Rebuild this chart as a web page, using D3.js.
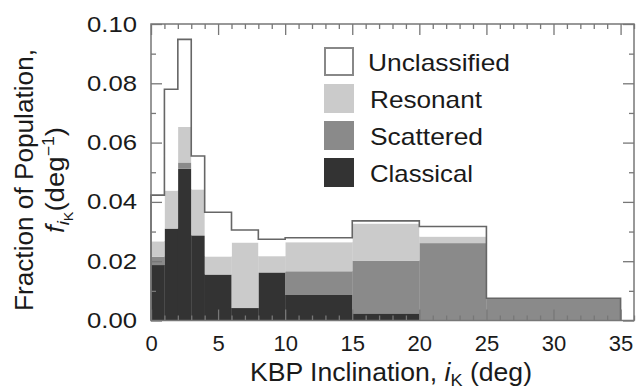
<!DOCTYPE html>
<html>
<head>
<meta charset="utf-8">
<script src="https://cdn.jsdelivr.net/npm/d3@7"></script>
<style>
  body { margin: 0; background: #fff; }
  svg { display: block; font-family: "Liberation Sans", Arial, Helvetica, sans-serif; }
  .tick line { stroke: #777; stroke-width: 1.3; }
  .tick text { fill: #1a1a1a; font-size: 22px; }
</style>
</head>
<body>
<svg class="chart" width="637" height="391"></svg>
<script>
// bin edges (deg) and fraction per category (deg^-1)
const binEdges = [0, 1, 2, 3, 4, 6, 8, 10, 15, 20, 25, 35];
const classical    = [0.0187, 0.0310, 0.0512, 0.0287, 0.0155, 0.0042, 0.0162, 0.0086, 0.0024, 0.0000, 0.0000];
const scattered    = [0.0028, 0.0000, 0.0021, 0.0000, 0.0000, 0.0000, 0.0000, 0.0080, 0.0178, 0.0261, 0.0075];
const resonant     = [0.0052, 0.0128, 0.0120, 0.0155, 0.0061, 0.0221, 0.0055, 0.0098, 0.0125, 0.0022, 0.0000];
const unclassified = [0.0156, 0.0342, 0.0295, 0.0113, 0.0149, 0.0042, 0.0057, 0.0015, 0.0009, 0.0034, 0.0000];
const categories = ['Classical', 'Scattered', 'Resonant', 'Unclassified'];
const legendOrder = ['Unclassified', 'Resonant', 'Scattered', 'Classical'];
const xMajorTicks = [0, 5, 10, 15, 20, 25, 30, 35];
const yMajorTicks = [0, 0.02, 0.04, 0.06, 0.08, 0.10];

const colors = { Classical: '#333333', Scattered: '#8a8a8a', Resonant: '#cbcbcb', Unclassified: '#ffffff' };
const legendTextLen = { Unclassified: 142, Resonant: 112, Scattered: 113, Classical: 103 };

const width = 637, height = 391;
const margin = { l: 151, t: 24, r: 3, b: 70.5 };

const svg = d3.select('.chart');

const xScale = d3.scaleLinear().domain([0, 36]).range([margin.l, width - margin.r]);
const yScale = d3.scaleLinear().domain([0, 0.1]).range([height - margin.b, margin.t]);

const series = { Classical: classical, Scattered: scattered, Resonant: resonant, Unclassified: unclassified };
const rows = classical.map((d, i) => {
  const row = { x0: binEdges[i], x1: binEdges[i + 1] };
  categories.forEach(c => { row[c] = series[c][i]; });
  return row;
});

const stacked = d3.stack().keys(categories)(rows);

// stacked bars
const layers = svg.append('g').selectAll('g')
  .data(stacked)
  .join('g')
  .attr('fill', d => colors[d.key]);

layers.selectAll('rect')
  .data(d => d)
  .join('rect')
  .attr('x', d => xScale(d.data.x0))
  .attr('width', d => xScale(d.data.x1) - xScale(d.data.x0) + 0.3)
  .attr('y', d => yScale(d[1]))
  .attr('height', d => Math.max(0, yScale(d[0]) - yScale(d[1])));

// outline of the total
const totals = stacked[stacked.length - 1];
const outlinePts = [{ x: 0, y: 0 }]
  .concat(totals.map(d => ({ x: d.data.x0, y: d[1] })))
  .concat([{ x: binEdges[binEdges.length - 1], y: 0 }]);

const line = d3.line()
  .x(d => xScale(d.x))
  .y(d => yScale(d.y))
  .curve(d3.curveStepAfter);

svg.append('path')
  .attr('d', line(outlinePts))
  .attr('fill', 'none')
  .attr('stroke', '#666')
  .attr('stroke-width', 1.6);

// frame
svg.append('rect')
  .attr('x', margin.l).attr('y', margin.t)
  .attr('width', width - margin.r - margin.l)
  .attr('height', height - margin.b - margin.t)
  .attr('fill', 'none')
  .attr('stroke', '#777')
  .attr('stroke-width', 1.5);

const xMinor = d3.range(0, 37, 1).filter(v => v % 5 !== 0);
const yMinor = [0.01, 0.03, 0.05, 0.07, 0.09];
const bottomY = height - margin.b, rightX = width - margin.r;

function addAxis(axis, tx, ty) {
  const g = svg.append('g').attr('transform', `translate(${tx},${ty})`).call(axis);
  g.select('.domain').remove();
  return g;
}

// bottom
const xb = addAxis(d3.axisBottom(xScale).tickValues(xMajorTicks).tickSize(-11).tickPadding(15).tickFormat(d3.format('d')), 0, bottomY);
xb.selectAll('text').attr('font-size', 23);
addAxis(d3.axisBottom(xScale).tickValues(xMinor).tickSize(-5).tickFormat(''), 0, bottomY);
// top
addAxis(d3.axisTop(xScale).tickValues(xMajorTicks).tickSize(-11).tickFormat(''), 0, margin.t);
addAxis(d3.axisTop(xScale).tickValues(xMinor).tickSize(-5).tickFormat(''), 0, margin.t);
// left
const yl = addAxis(d3.axisLeft(yScale).tickValues(yMajorTicks).tickSize(-11).tickPadding(14).tickFormat(d3.format('.2f')), margin.l, 0);
yl.selectAll('text').attr('textLength', 50).attr('lengthAdjust', 'spacingAndGlyphs');
addAxis(d3.axisLeft(yScale).tickValues(yMinor).tickSize(-5).tickFormat(''), margin.l, 0);
// right
addAxis(d3.axisRight(yScale).tickValues(yMajorTicks).tickSize(-11).tickFormat(''), rightX, 0);
addAxis(d3.axisRight(yScale).tickValues(yMinor).tickSize(-5).tickFormat(''), rightX, 0);

// x title
const xt = svg.append('text')
  .attr('x', 250).attr('y', 381)
  .attr('font-size', 25)
  .attr('fill', '#1a1a1a')
  .attr('textLength', 282)
  .attr('lengthAdjust', 'spacingAndGlyphs');
xt.append('tspan').text('KBP Inclination, ');
xt.append('tspan').attr('font-style', 'italic').text('i');
xt.append('tspan').attr('font-size', 17).attr('dy', 5).text('K');
xt.append('tspan').attr('dy', -5).text(' (deg)');

// y title
svg.append('text')
  .attr('transform', 'translate(33,180) rotate(-90)')
  .attr('text-anchor', 'middle')
  .attr('font-size', 25)
  .attr('fill', '#1a1a1a')
  .attr('textLength', 262)
  .attr('lengthAdjust', 'spacingAndGlyphs')
  .text('Fraction of Population,');

const yt2 = svg.append('text')
  .attr('transform', 'translate(64,180) rotate(-90)')
  .attr('text-anchor', 'middle')
  .attr('font-size', 25)
  .attr('fill', '#1a1a1a')
  .attr('textLength', 106)
  .attr('lengthAdjust', 'spacingAndGlyphs');
yt2.append('tspan').attr('font-style', 'italic').text('f');
yt2.append('tspan').attr('font-style', 'italic').attr('font-size', 17).attr('dy', 5).text('i');
yt2.append('tspan').attr('font-size', 13).attr('dy', 4).text('K');
yt2.append('tspan').attr('dy', -9).text('(deg');
yt2.append('tspan').attr('font-size', 16).attr('dy', -10).text('\u22121');
yt2.append('tspan').attr('dy', 10).text(')');

// legend
const legend = svg.append('g').attr('transform', 'translate(324,47)');
const item = legend.selectAll('g')
  .data(legendOrder)
  .join('g')
  .attr('transform', (d, i) => `translate(0,${i * 37})`);

item.append('rect')
  .attr('x', d => d === 'Unclassified' ? 1 : 0)
  .attr('y', d => d === 'Unclassified' ? 1 : 0)
  .attr('width', d => d === 'Unclassified' ? 28 : 30)
  .attr('height', d => d === 'Unclassified' ? 27 : 29)
  .attr('fill', d => colors[d])
  .attr('stroke', d => d === 'Unclassified' ? '#888' : 'none')
  .attr('stroke-width', 2);

item.append('text')
  .attr('x', d => d === 'Unclassified' ? 44 : 46)
  .attr('y', 23.5)
  .attr('font-size', 24)
  .attr('fill', '#1a1a1a')
  .attr('textLength', d => legendTextLen[d])
  .attr('lengthAdjust', 'spacingAndGlyphs')
  .text(d => d);
</script>
</body>
</html>
